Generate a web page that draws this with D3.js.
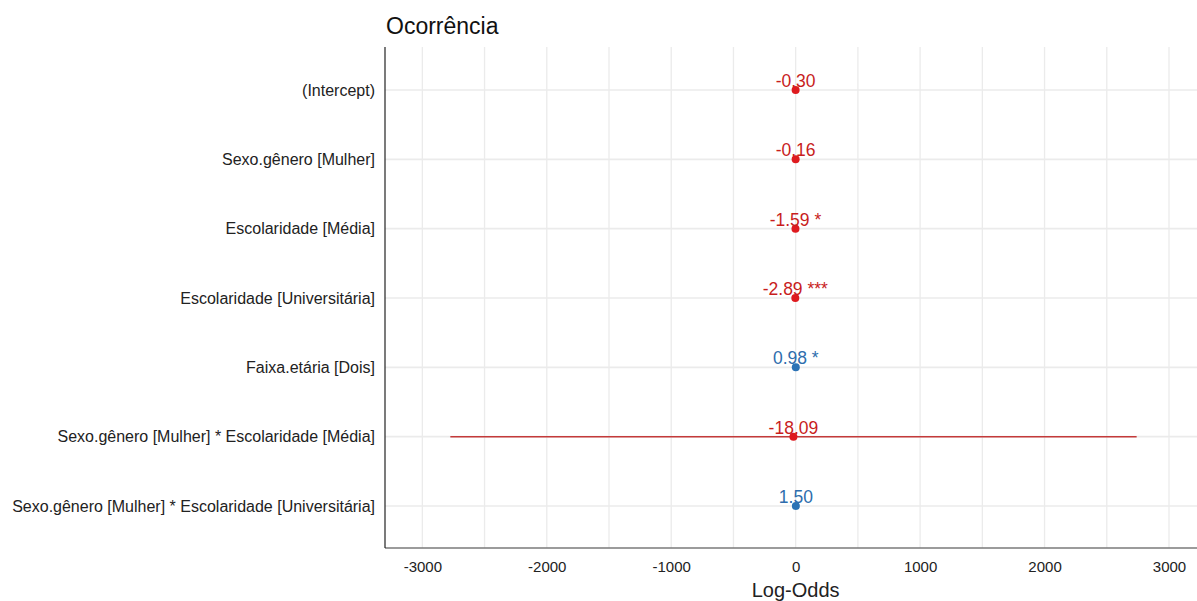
<!DOCTYPE html>
<html>
<head>
<meta charset="utf-8">
<script src="https://cdn.jsdelivr.net/npm/d3@7"></script>
<style>
  body { margin: 0; background: #fff; }
  text { font-family: "Liberation Sans", Arial, sans-serif; }
</style>
</head>
<body>
<div id="app"></div>
<script>
// model terms, top to bottom
const terms = [
  "(Intercept)",
  "Sexo.gênero [Mulher]",
  "Escolaridade [Média]",
  "Escolaridade [Universitária]",
  "Faixa.etária [Dois]",
  "Sexo.gênero [Mulher] * Escolaridade [Média]",
  "Sexo.gênero [Mulher] * Escolaridade [Universitária]"
];
const estimates = [-0.30, -0.16, -1.59, -2.89, 0.98, -18.09, 1.50];
const ciLow  = [-0.9, -1.0, -2.9, -4.4, 0.2, -2775, 0.1];
const ciHigh = [0.3, 0.7, -0.4, -1.5, 1.8, 2740, 2.9];
const stars  = ["", "", " *", " ***", " *", "", ""];
const xTicks = [-3000, -2000, -1000, 0, 1000, 2000, 3000];
const xGrid  = d3.range(-3000, 3001, 500);

const W = 1197, H = 601;
const margin = {top: 47, right: 0, bottom: 53, left: 385};
const width = W - margin.left - margin.right,
  height = H - margin.top - margin.bottom;

const RED = "#c81d1d", RED_PT = "#de1a1f", BLUE = "#2e6dad", BLUE_PT = "#2b72b5";

const svg = d3.select("#app")
.append("svg")
  .attr("width", W)
  .attr("height", H);

const g = svg.append("g")
  .attr("transform", "translate(" + margin.left + "," + margin.top + ")");

// scales
const x = d3.scaleLinear()
  .domain([-3300, 3225])
  .range([0, width]);

const y = d3.scalePoint()
  .domain(terms)
  .range([43, 459]);

// grid
g.selectAll(".vgrid")
  .data(xGrid)
  .enter().append("line")
  .attr("x1", d => x(d)).attr("x2", d => x(d))
  .attr("y1", 0).attr("y2", height)
  .attr("stroke", "#ebebeb").attr("stroke-width", 1.3);

g.selectAll(".hgrid")
  .data(terms)
  .enter().append("line")
  .attr("x1", 0).attr("x2", width)
  .attr("y1", d => y(d)).attr("y2", d => y(d))
  .attr("stroke", "#ebebeb").attr("stroke-width", 1.6);

// axis lines
g.append("line")
  .attr("x1", 0).attr("x2", width)
  .attr("y1", height).attr("y2", height)
  .attr("stroke", "#7a7a7a").attr("stroke-width", 1.4);
g.append("line")
  .attr("x1", 0).attr("x2", 0)
  .attr("y1", 0).attr("y2", height)
  .attr("stroke", "#222").attr("stroke-width", 1.2);

// x axis labels (plain hyphen as minus)
const xAxis = g.append("g")
  .attr("transform", "translate(0," + height + ")")
  .call(d3.axisBottom(x).tickValues(xTicks).tickSize(0).tickPadding(13).tickFormat(d => String(d)));
xAxis.select(".domain").remove();
xAxis.selectAll("text")
  .attr("font-size", 15)
  .attr("fill", "#222")
  .style("font-family", "'Liberation Sans', Arial, sans-serif");

// y axis labels
const yAxis = g.append("g")
  .call(d3.axisLeft(y).tickSize(0).tickPadding(10));
yAxis.select(".domain").remove();
yAxis.selectAll("text")
  .attr("font-size", 16)
  .attr("fill", "#222")
  .style("font-family", "'Liberation Sans', Arial, sans-serif");

const data = terms.map((t, i) => ({
  term: t, est: estimates[i], lo: ciLow[i], hi: ciHigh[i], star: stars[i]
}));
const col = d => d.est < 0 ? RED : BLUE;
const colPt = d => d.est < 0 ? RED_PT : BLUE_PT;

// error bars
g.selectAll(".err")
  .data(data)
  .enter().append("line")
  .attr("x1", d => x(d.lo)).attr("x2", d => x(d.hi))
  .attr("y1", d => y(d.term)).attr("y2", d => y(d.term))
  .attr("stroke", d => d.est < 0 ? "#c43a3a" : BLUE)
  .attr("stroke-width", 1.5);

// points
g.selectAll(".pt")
  .data(data)
  .enter().append("circle")
  .attr("cx", d => x(d.est))
  .attr("cy", d => y(d.term))
  .attr("r", 4)
  .attr("fill", colPt);

// value labels
g.selectAll(".lbl")
  .data(data)
  .enter().append("text")
  .attr("x", d => x(d.est))
  .attr("y", d => y(d.term) - 3)
  .attr("text-anchor", "middle")
  .attr("font-size", 17.5)
  .attr("fill", col)
  .text(d => d.est.toFixed(2) + d.star);

// title
svg.append("text")
  .attr("x", 386).attr("y", 34)
  .attr("font-size", 23)
  .attr("fill", "#111")
  .text("Ocorrência");

// x axis title
svg.append("text")
  .attr("x", margin.left + x(0)).attr("y", 597)
  .attr("text-anchor", "middle")
  .attr("font-size", 20)
  .attr("fill", "#222")
  .text("Log-Odds");
</script>
</body>
</html>
